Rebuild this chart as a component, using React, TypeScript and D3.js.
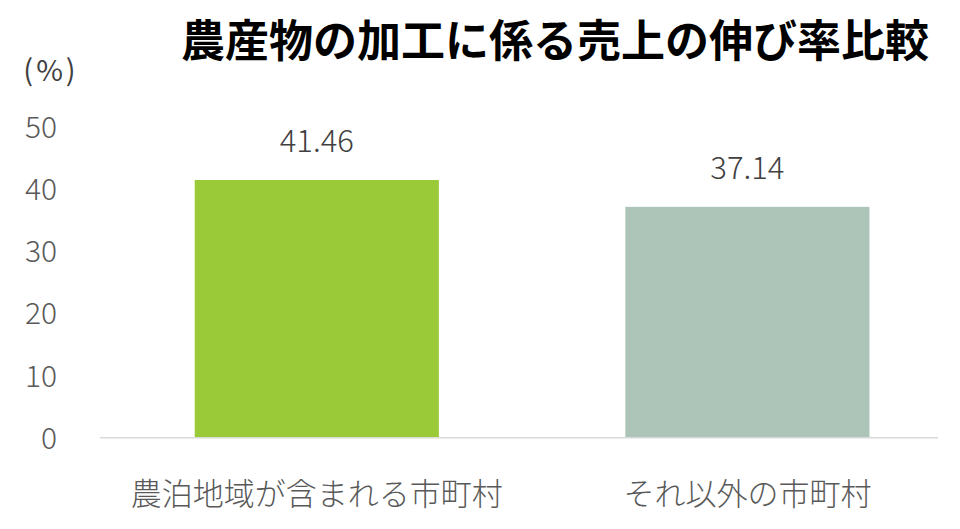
import { useMemo } from "react";
import * as d3 from "d3";

const title = "農産物の加工に係る売上の伸び率比較";
const unitLabel = "(%)";
const categories = ["農泊地域が含まれる市町村", "それ以外の市町村"];
const values = [41.46, 37.14];
const valueLabels = ["41.46", "37.14"];
const barColors = ["#9aca38", "#adc5b9"];
const yTicks = [0, 10, 20, 30, 40, 50];

const W = 960;
const H = 529;
const FONT = "'Noto Sans CJK JP', 'Noto Sans', sans-serif";

export default function App() {
  const x = useMemo(
    () => d3.scaleBand<string>().domain(categories).range([101.5, 962.7]).paddingInner(0.433).paddingOuter(0.2165),
    [],
  );
  const y = useMemo(() => d3.scaleLinear().domain([0, 50]).range([437.7, 126.9]), []);

  return (
    <svg
      width={W}
      height={H}
      style={{ position: "absolute", left: 0, top: 0, background: "#fff" }}
      fontFamily={FONT}
    >
      <text x={555} y={38} textAnchor="middle" dominantBaseline="central" fontSize={44} fontWeight={700} fill="#000">
        {title}
      </text>
      <text x={51} y={68} textAnchor="middle" dominantBaseline="central" fontSize={29} letterSpacing={3} fill="#404040">
        {unitLabel}
      </text>

      {yTicks.map((t) => (
        <text key={t} x={57} y={y(t) - 2} textAnchor="end" dominantBaseline="central" fontSize={30} fontWeight={300} fill="#595959">
          {t}
        </text>
      ))}

      {categories.map((c, i) => (
        <g key={c}>
          <rect x={x(c)} y={y(values[i])} width={x.bandwidth()} height={y(0) - y(values[i])} fill={barColors[i]} />
          <text
            x={(x(c) ?? 0) + x.bandwidth() / 2}
            y={y(values[i]) - 41}
            textAnchor="middle"
            dominantBaseline="central"
            fontSize={31}
            fontWeight={300}
            fill="#404040"
          >
            {valueLabels[i]}
          </text>
          <text
            x={(x(c) ?? 0) + x.bandwidth() / 2}
            y={491}
            textAnchor="middle"
            dominantBaseline="central"
            fontSize={31}
            fontWeight={300}
            fill="#595959"
          >
            {c}
          </text>
        </g>
      ))}

      <line x1={100} x2={938} y1={y(0)} y2={y(0)} stroke="#d9d9d9" strokeWidth={1.5} />
    </svg>
  );
}
